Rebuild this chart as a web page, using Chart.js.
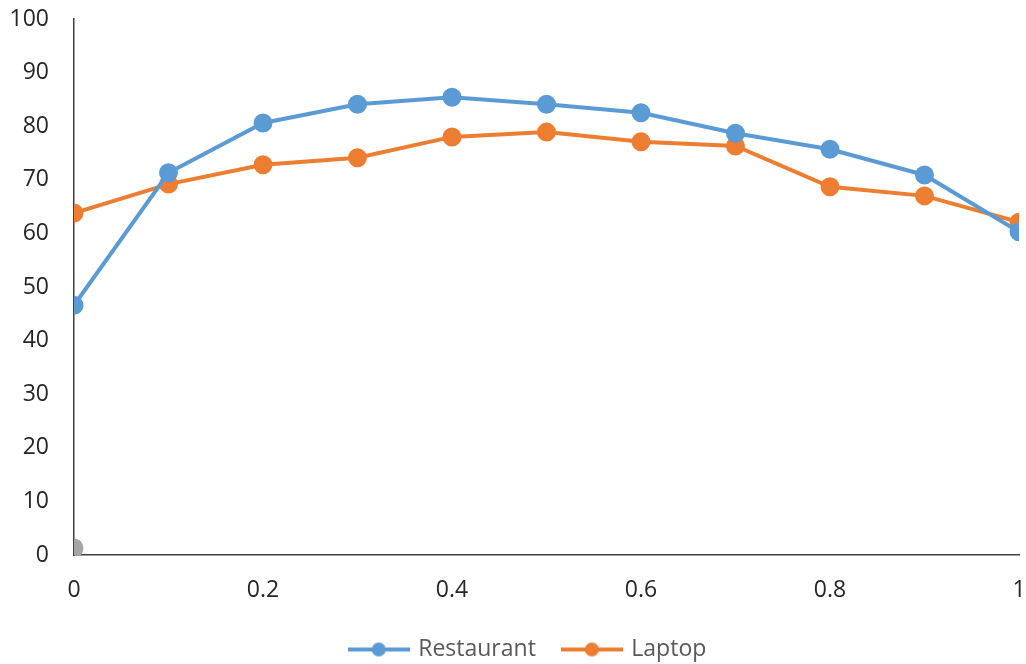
<!DOCTYPE html>
<html>
<head>
<meta charset="utf-8">
<script src="https://cdn.jsdelivr.net/npm/chart.js@4.4.1/dist/chart.umd.min.js"></script>
<style>
    body { margin: 0; background: #fff; }
    #wrap { width: 1026px; height: 664px; }
</style>
</head>
<body>
<div id="wrap"><canvas id="myChart" width="1026" height="664"></canvas></div>
<script>
const xValues = [0, 0.1, 0.2, 0.3, 0.4, 0.5, 0.6, 0.7, 0.8, 0.9, 1];
const restaurant = [46.6, 71.3, 80.6, 84.1, 85.4, 84.1, 82.5, 78.7, 75.7, 70.9, 60.3];
const laptop = [63.8, 69.2, 72.8, 74.1, 78.0, 78.9, 77.1, 76.3, 68.7, 67.0, 62.1];
const extraX = [0];
const extraY = [1.3];

const blue = '#5B9BD5';
const orange = '#ED7D31';
const gray = '#A5A5A5';
const fontFam = 'Open Sans';

// legend marker: line with a dot in the middle, like Excel
function legendMarker(color) {
    const c = document.createElement('canvas');
    c.width = 62;
    c.height = 16;
    const g = c.getContext('2d');
    g.strokeStyle = color;
    g.lineWidth = 4;
    g.beginPath();
    g.moveTo(0, 8);
    g.lineTo(62, 8);
    g.stroke();
    g.fillStyle = color;
    g.beginPath();
    g.arc(31, 8, 7, 0, Math.PI * 2);
    g.fill();
    return c;
}

function toPoints(xs, ys) {
    return xs.map((x, i) => ({ x: x, y: ys[i] }));
}

// the Excel legend sits a little right of the canvas centre
const shiftLegend = {
    id: 'shiftLegend',
    afterLayout: (chart) => {
        chart.legend.left += 19;
        chart.legend.right += 19;
    }
};

const ctx = document.getElementById('myChart');
new Chart(ctx, {
    type: 'line',
    data: {
        datasets: [{
            label: 'Restaurant',
            data: toPoints(xValues, restaurant),
            borderColor: blue,
            backgroundColor: blue,
            borderWidth: 4,
            pointRadius: 7.5,
            pointHoverRadius: 7.5,
            legendMarker: legendMarker(blue)
        }, {
            label: 'Laptop',
            data: toPoints(xValues, laptop),
            borderColor: orange,
            backgroundColor: orange,
            borderWidth: 4,
            pointRadius: 7.5,
            pointHoverRadius: 7.5,
            legendMarker: legendMarker(orange)
        }, {
            label: '',
            data: toPoints(extraX, extraY),
            borderColor: gray,
            backgroundColor: gray,
            borderWidth: 4,
            pointRadius: 7.5,
            showLine: false
        }]
    },
    plugins: [shiftLegend],
    options: {
        responsive: false,
        animation: false,
        layout: {
            autoPadding: false,
            padding: { top: 19, right: 7, bottom: -7, left: 0 }
        },
        plugins: {
            tooltip: { enabled: false },
            legend: {
                position: 'bottom',
                labels: {
                    color: '#595959',
                    font: { family: fontFam, size: 23 },
                    usePointStyle: true,
                    pointStyleWidth: 56,
                    padding: 28,
                    generateLabels: (chart) => chart.data.datasets.slice(0, 2).map((ds, i) => ({
                        text: ds.label,
                        pointStyle: ds.legendMarker,
                        fillStyle: ds.borderColor,
                        strokeStyle: ds.borderColor,
                        fontColor: '#595959',
                        lineWidth: 0,
                        datasetIndex: i
                    }))
                }
            }
        },
        scales: {
            x: {
                type: 'linear',
                min: 0,
                max: 1,
                grid: { display: false },
                border: { display: true, color: '#404040', width: 1.5 },
                ticks: {
                    stepSize: 0.2,
                    color: '#262626',
                    font: { family: fontFam, size: 23 },
                    padding: 14,
                    callback: (v) => Math.round(v * 10) / 10
                },
                afterFit: (axis) => {
                    axis.height = 55;
                    axis.paddingLeft = 0;
                    axis.paddingRight = 0;
                }
            },
            y: {
                min: 0,
                max: 100,
                grid: { display: false },
                border: { display: true, color: '#404040', width: 1.5 },
                ticks: {
                    stepSize: 10,
                    color: '#262626',
                    font: { family: fontFam, size: 23 },
                    padding: 17
                },
                afterFit: (axis) => {
                    axis.width = 74;
                    axis.paddingTop = 0;
                    axis.paddingBottom = 0;
                }
            }
        }
    }
});
</script>
</body>
</html>
